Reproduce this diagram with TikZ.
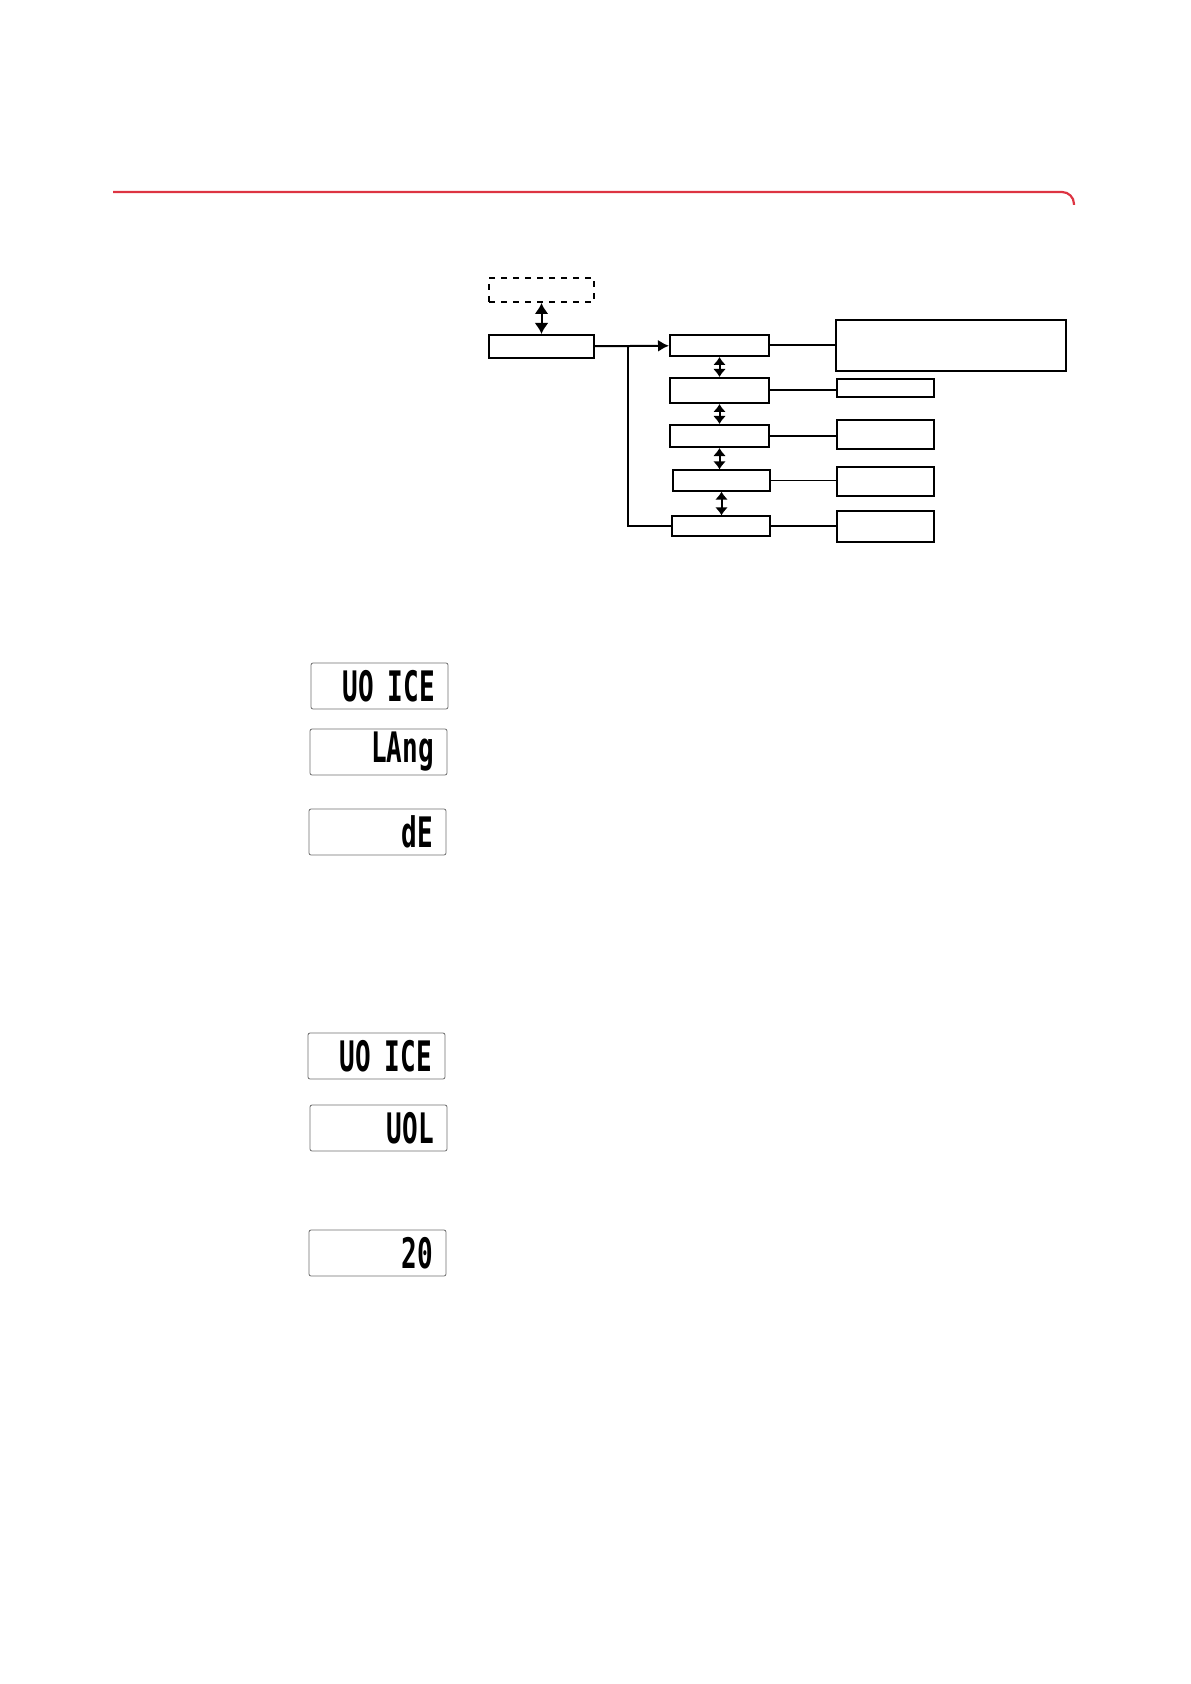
\documentclass[tikz,border=0pt]{standalone}
\usepackage{fontspec}
\usepackage{xcolor}
\usepackage{tikz}
\usetikzlibrary{shapes,arrows.meta,positioning,calc}
\newfontfamily\lcdfont[FakeStretch=0.62]{DejaVu Sans Mono}
\definecolor{headerred}{RGB}{221, 52, 66}
\definecolor{lcdgray}{RGB}{110, 110, 110}

\begin{document}
\begin{tikzpicture}[x=0.5pt,y=-0.5pt,
    menubox/.style={draw,line width=1pt,inner sep=0pt},
    thinbox/.style={draw,line width=0.65pt,inner sep=0pt},
    link/.style={line width=1pt},
    bigtip/.style={{Latex[length=5.5pt,width=7pt]}-{Latex[length=5.5pt,width=7pt]}},
    smalltip/.style={{Latex[length=4pt,width=6.5pt]}-{Latex[length=4pt,width=6.5pt]}},
    lcdbox/.style={draw=lcdgray,rounded corners=1pt,minimum height=23pt,text width=55.5pt,
        inner xsep=6.5pt,inner ysep=0pt,align=right,font=\lcdfont\bfseries\fontsize{21}{21}\selectfont}]
    \useasboundingbox (0,0) rectangle (1190,1684);
    \draw[headerred,line width=1.1pt,rounded corners=6pt] (113,192) -- (1074,192) -- (1074,205);
    \node[menubox,dashed,minimum width=52.5pt,minimum height=12pt] (sub) at (541.5,290) {};
    \node[menubox,minimum width=52.5pt,minimum height=11.5pt] (menu) at (541.5,346.5) {};
    \node[menubox,minimum width=49.5pt,minimum height=10.5pt] (lang) at (719.5,345.5) {};
    \node[menubox,minimum width=49.5pt,minimum height=12.5pt] (vol) at (719.5,390.5) {};
    \node[menubox,minimum width=49.5pt,minimum height=11pt] (opt) at (719.5,436) {};
    \node[thinbox,minimum width=48.5pt,minimum height=10.5pt] (mode) at (721.5,480.5) {};
    \node[thinbox,minimum width=49pt,minimum height=10pt] (back) at (721,526) {};
    \node[menubox,minimum width=115pt,minimum height=25.5pt] (langval) at (951,345.5) {};
    \node[thinbox,minimum width=48.5pt,minimum height=9pt] (volval) at (885.5,388) {};
    \node[menubox,minimum width=48.5pt,minimum height=14.5pt] (optval) at (885.5,434.5) {};
    \node[menubox,minimum width=48.5pt,minimum height=14.5pt] (modeval) at (885.5,481.5) {};
    \node[thinbox,minimum width=48.5pt,minimum height=15.5pt] (backval) at (885.5,526.5) {};
    \coordinate (split) at (628,346.5);
    \draw[link,bigtip] (sub) -- (menu);
    \draw[link,-{Latex[length=5.5pt,width=6pt]}] (menu) -- (lang);
    \draw[link] (split) |- (back);
    \draw[link,smalltip] (lang) -- (vol);
    \draw[link,smalltip] (vol) -- (opt);
    \draw[link,smalltip] (opt.south) -- (opt.south |- mode.north);
    \draw[link,smalltip] (mode) -- (mode |- back.north);
    \draw[link] (lang) -- (langval);
    \draw[link] (vol) -- (vol -| volval.west);
    \draw[link] (opt) -- (opt -| optval.west);
    \draw[line width=0.65pt] (mode) -- (mode -| modeval.west);
    \draw[link] (back) -- (back -| backval.west);
    \node[lcdbox] (lcdvoice) at (379.5,686) {UO ICE};
    \node[lcdbox] (lcdlang) at (378.5,752) {LAng};
    \node[lcdbox] (lcdde) at (377.5,832) {dE};
    \node[lcdbox] (lcdvoicetwo) at (376.5,1056) {UO ICE};
    \node[lcdbox] (lcdvol) at (378.5,1128) {UOL};
    \node[lcdbox] (lcdlevel) at (377.5,1253) {20};
\end{tikzpicture}
\end{document}
